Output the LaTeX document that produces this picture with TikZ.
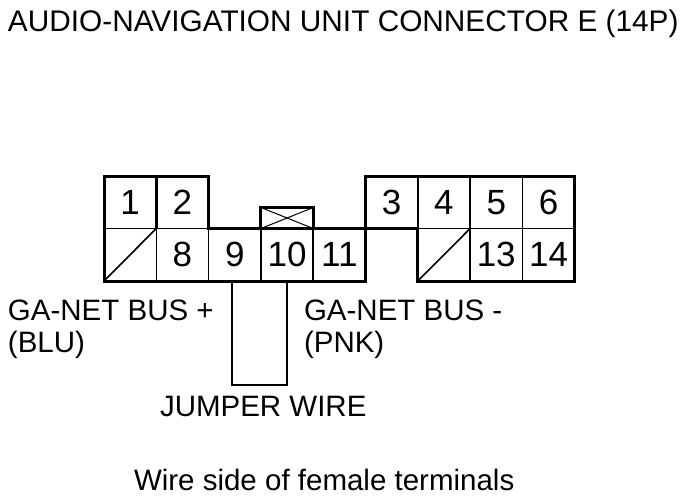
\documentclass[tikz,border=0pt]{standalone}
\usepackage{fontspec}
\setmainfont{Liberation Sans}
\usetikzlibrary{positioning}
\tikzset{
	pincell/.style={rectangle, draw, line width=1.6pt, minimum width=52.3pt, minimum height=52.5pt, inner sep=0pt, outer sep=0pt, font=\fontsize{35}{35}\selectfont},
	outline/.style={line width=3pt, line join=miter},
	wirelabel/.style={inner sep=0pt, outer sep=0pt, align=left, anchor=north west, font=\fontsize{29.5}{32}\selectfont}
}
\begin{document}
\begin{tikzpicture}[x=1pt, y=-1pt, node distance=0pt]
	\useasboundingbox (0,0) rectangle (688,500);
	\node (Title)[wirelabel, font=\fontsize{29.8}{32}\selectfont] at (8,10) {AUDIO-NAVIGATION UNIT CONNECTOR E (14P)};
	% top row
	\node (pin1)[pincell, anchor=north west] at (104,176) {1};
	\node (pin2)[pincell, right=of pin1] {2};
	% bottom row
	\node (pin7)[pincell, below=of pin1] {};
	\node (pin8)[pincell, right=of pin7] {8};
	\node (pin9)[pincell, right=of pin8] {9};
	\node (pin10)[pincell, right=of pin9] {10};
	\node (pin11)[pincell, right=of pin10] {11};
	% right half
	\node (pin3)[pincell, above right=of pin11] {3};
	\node (pin4)[pincell, right=of pin3] {4};
	\node (pin5)[pincell, right=of pin4] {5};
	\node (pin6)[pincell, right=of pin5] {6};
	\node (pin12)[pincell, below=of pin4] {};
	\node (pin13)[pincell, right=of pin12] {13};
	\node (pin14)[pincell, right=of pin13] {14};
	\draw[line width=1.6pt] (pin7.south west) -- (pin7.north east);
	\draw[line width=1.6pt] (pin12.south west) -- (pin12.north east);
	% lock tab
	\node (tab)[rectangle, outline, draw, minimum width=52.3pt, minimum height=21pt, inner sep=0pt, outer sep=0pt, above=of pin10] {};
	\draw[line width=1pt] (tab.south west) -- (tab.north east);
	\draw[line width=1pt] (tab.north west) -- (tab.south east);
	% housing
	\draw[outline] (pin1.north west) -- (pin2.north east) -- (pin2.south east) -- (pin11.north east) -- (pin11.south east) -- (pin7.south west) -- cycle;
	\draw[outline] (pin3.south west) -- (pin3.north west) -- (pin6.north east) -- (pin14.south east) -- (pin12.south west) -- (pin12.north west) -- (pin3.south west);
	\draw[outline] (pin1.north east) -- (pin7.north east);
	% jumper
	\coordinate (jumpL) at (232,385);
	\coordinate (jumpR) at (pin10.south |- jumpL);
	\draw[line width=2pt] (pin9.south -| jumpL) -- (jumpL) -- (jumpR) -- (pin10.south);
	\node (busplus)[wirelabel] at (8,299.5) {GA-NET BUS +\\(BLU)};
	\node (busminus)[wirelabel] at (304,299.5) {GA-NET BUS -\\(PNK)};
	\node (jumper)[wirelabel] at (160,396) {JUMPER WIRE};
	\node (caption)[wirelabel] at (134,469) {Wire side of female terminals};
\end{tikzpicture}
\end{document}
